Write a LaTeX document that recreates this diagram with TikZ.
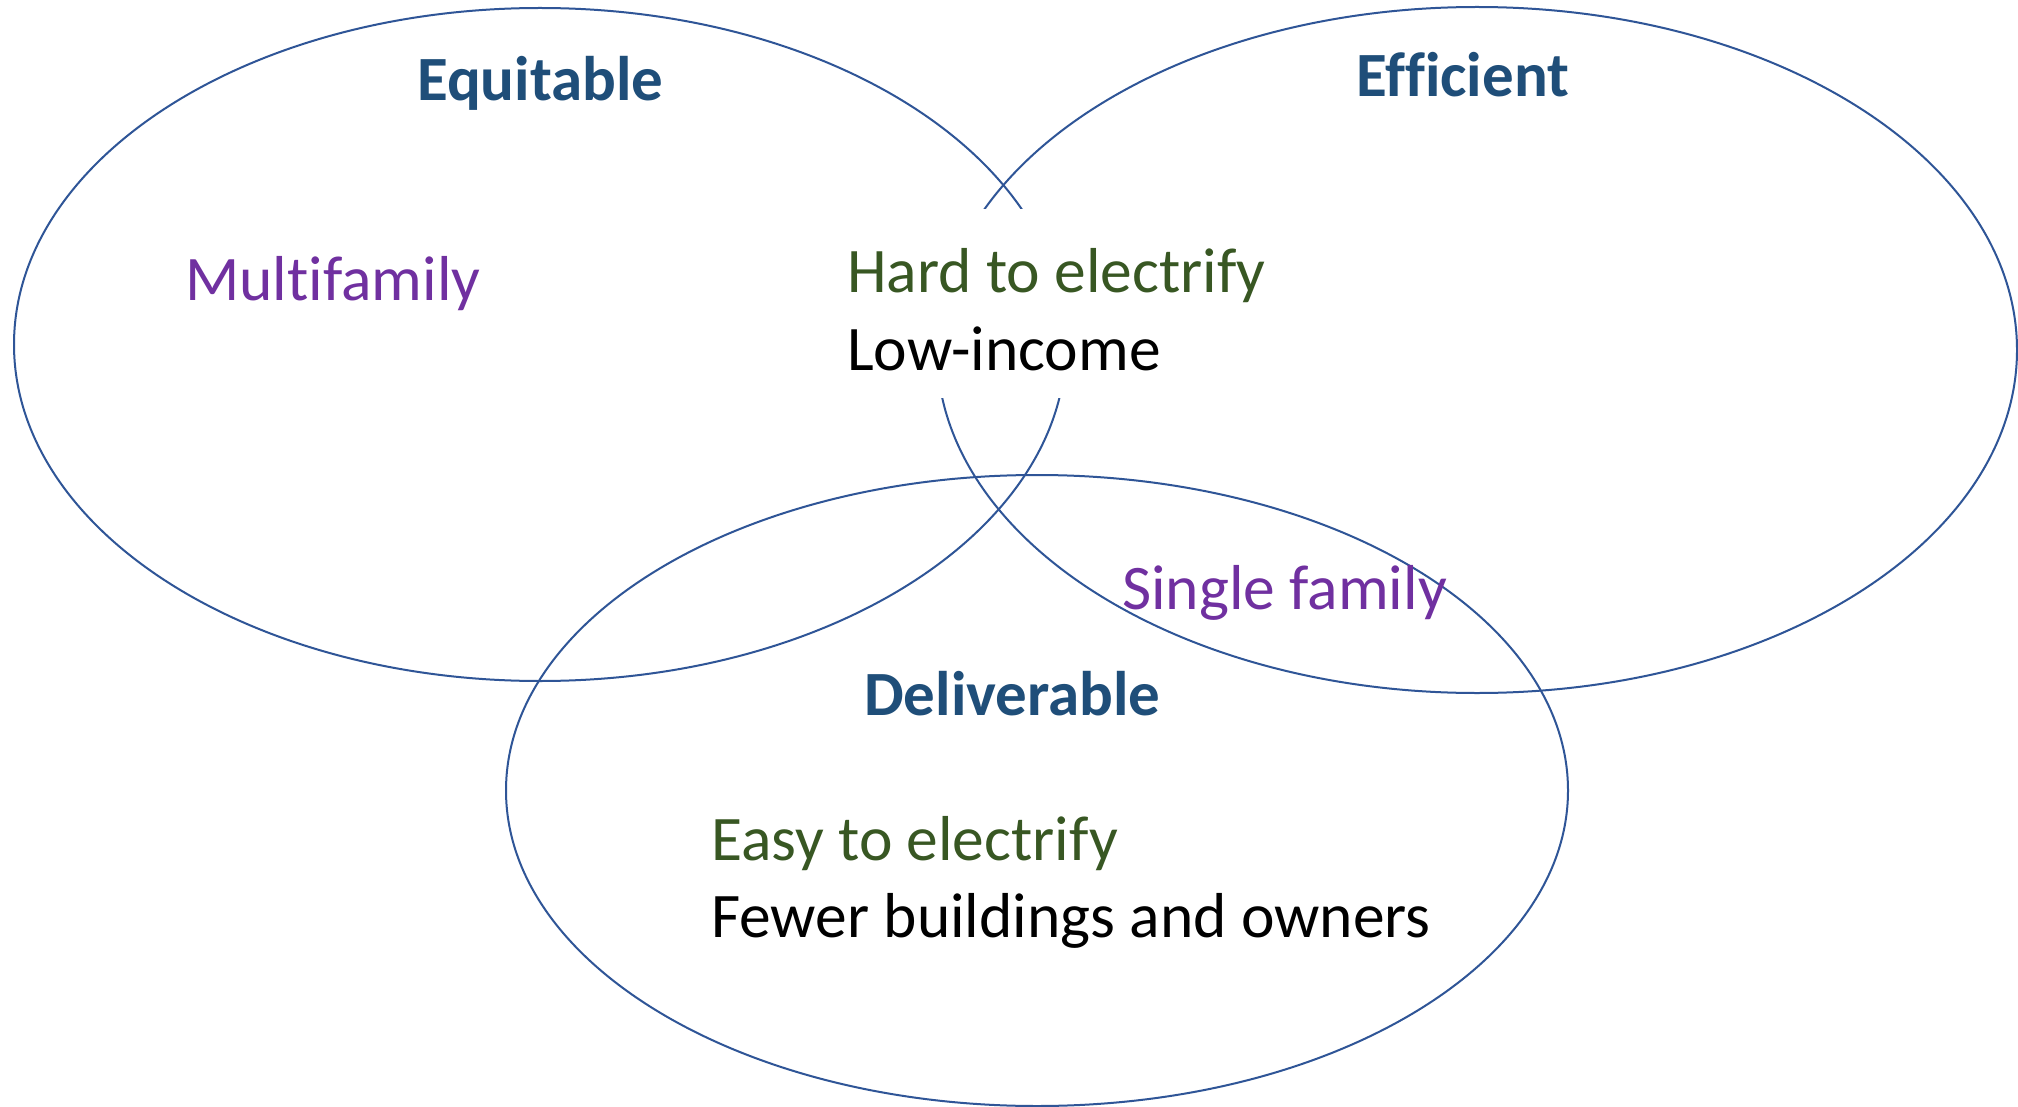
\documentclass[tikz,border=0pt]{standalone}
\usepackage{fontspec}
\setmainfont{Carlito}[Ligatures=CommonOff]
\usetikzlibrary{shapes.geometric}
\definecolor{ringblue}{RGB}{47,85,151}
\definecolor{titleblue}{RGB}{31,78,121}
\definecolor{vpurple}{RGB}{112,48,160}
\definecolor{vgreen}{RGB}{56,87,35}
\tikzset{
  ring/.style={ellipse, draw=ringblue, line width=2pt, inner sep=0pt},
  ttl/.style={anchor=base west, inner sep=0pt, text=titleblue, font=\fontsize{63}{76}\selectfont\bfseries},
  lbl/.style={anchor=base west, inner sep=0pt, font=\fontsize{63.5}{77}\selectfont},
}
\begin{document}
\begin{tikzpicture}[x=1pt,y=-1pt]
\useasboundingbox (0,0) rectangle (2018,1107);
\fill[white] (0,0) rectangle (2018,1107);
% circles
\node[ring, minimum width=1052pt, minimum height=673pt] (equit) at (540,344.5) {};
\node[ring, minimum width=1080pt, minimum height=686pt] (effic) at (1477,350) {};
\node[ring, minimum width=1062pt, minimum height=631pt] (deliv) at (1037,790.5) {};
% mask box behind the centre text
\node[fill=white, inner sep=0pt, minimum width=440pt, minimum height=189pt] (mask) at (1055,303.5) {};
% titles
\node[ttl] (tequit) at (417,101) {Equitable};
\node[ttl] (teffic) at (1356,97) {Efficient};
\node[ttl] (tdeliv) at (864,715) {Deliverable};
% labels
\node[lbl, text=vpurple] (multi) at (185,301) {Multifamily};
\node[lbl, text=vgreen] (hard) at (847,293) {Hard to electrify};
\node[lbl, text=black] (lowinc) at (847,370) {Low-income};
\node[lbl, text=vpurple] (single) at (1122,609) {Single family};
\node[lbl, text=vgreen] (easy) at (711,860) {Easy to electrify};
\node[lbl, text=black] (fewer) at (711,937) {Fewer buildings and owners};
\end{tikzpicture}
\end{document}
